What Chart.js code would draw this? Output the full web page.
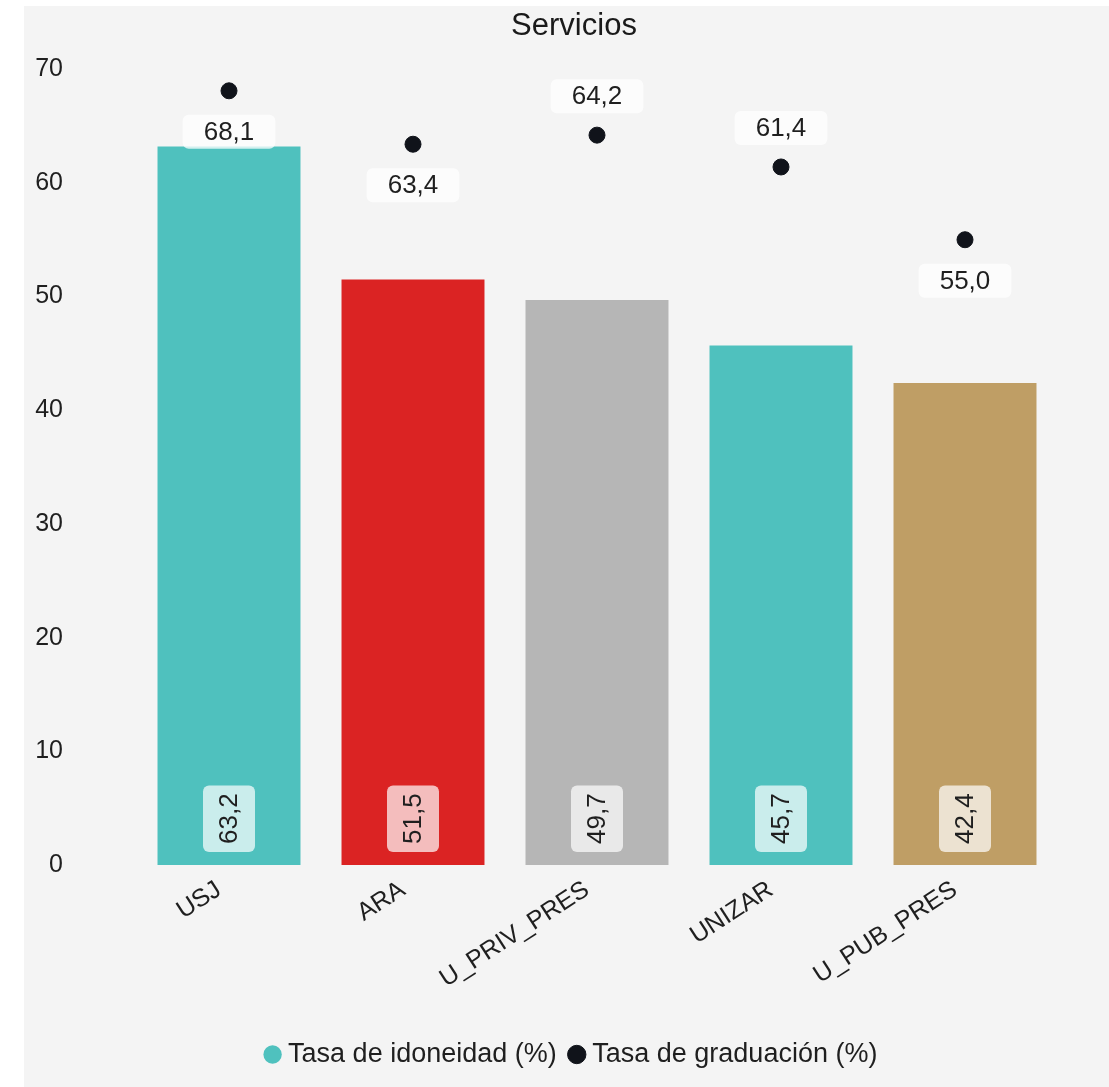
<!DOCTYPE html>
<html>
<head>
<meta charset="utf-8">
<script src="https://cdn.jsdelivr.net/npm/chart.js@4"></script>
<style>
  html, body { margin: 0; padding: 0; background: #fff; overflow: hidden; }
  #wrap { position: absolute; left: 24px; top: 6px; }
  canvas { background: #f4f4f4; display: block; }
</style>
</head>
<body>
<div id="wrap"><canvas id="chart" width="1100" height="1085"></canvas></div>
<script>
const categories = ['USJ', 'ARA', 'U_PRIV_PRES', 'UNIZAR', 'U_PUB_PRES'];
const idoneidad = [63.2, 51.5, 49.7, 45.7, 42.4];
const graduacion = [68.1, 63.4, 64.2, 61.4, 55.0];
const barColors = ['#4fc1be', '#db2323', '#b6b6b6', '#4fc1be', '#bf9e65'];
const dotLabelSide = ['below', 'below', 'above', 'above', 'below'];
const yTicks = [0, 10, 20, 30, 40, 50, 60, 70];

const FONT = '"Liberation Sans", Arial, sans-serif';
const fmt = v => v.toFixed(1).replace('.', ',');

function roundRect(ctx, x, y, w, h, r) {
    ctx.beginPath();
    ctx.moveTo(x + r, y);
    ctx.arcTo(x + w, y, x + w, y + h, r);
    ctx.arcTo(x + w, y + h, x, y + h, r);
    ctx.arcTo(x, y + h, x, y, r);
    ctx.arcTo(x, y, x + w, y, r);
    ctx.closePath();
}

const valueLabels = {
    id: 'valueLabels',
    afterDatasetsDraw(chart) {
        const ctx = chart.ctx;
        ctx.save();
        ctx.font = '26px ' + FONT;
        ctx.textAlign = 'center';
        ctx.textBaseline = 'middle';

        // bar labels, rotated, at the bottom of each bar
        chart.getDatasetMeta(0).data.forEach((bar, i) => {
            const txt = fmt(idoneidad[i]);
            const tw = ctx.measureText(txt).width;
            const bw = 52, bh = tw + 16;
            const cy = bar.base - 13 - bh / 2;
            ctx.save();
            ctx.fillStyle = 'rgba(255,255,255,0.7)';
            roundRect(ctx, bar.x - bw / 2, cy - bh / 2, bw, bh, 6);
            ctx.fill();
            ctx.translate(bar.x, cy);
            ctx.rotate(-Math.PI / 2);
            ctx.fillStyle = '#1f1f1f';
            ctx.fillText(txt, 0, 1);
            ctx.restore();
        });

        // point labels
        chart.getDatasetMeta(1).data.forEach((pt, i) => {
            const txt = fmt(graduacion[i]);
            const tw = ctx.measureText(txt).width;
            const bw = tw + 42, bh = 34;
            const cy = dotLabelSide[i] === 'above' ? pt.y - 22 - bh / 2 : pt.y + 24 + bh / 2;
            ctx.fillStyle = 'rgba(255,255,255,0.75)';
            roundRect(ctx, pt.x - bw / 2, cy - bh / 2, bw, bh, 6);
            ctx.fill();
            ctx.fillStyle = '#1f1f1f';
            ctx.fillText(txt, pt.x, cy + 1);
        });
        ctx.restore();
    }
};

new Chart(document.getElementById('chart'), {
    type: 'bar',
    data: {
        labels: categories,
        datasets: [
            {
                label: 'Tasa de idoneidad (%)',
                data: idoneidad,
                backgroundColor: barColors,
                categoryPercentage: 1,
                barPercentage: 0.777
            },
            {
                type: 'line',
                label: 'Tasa de graduación (%)',
                data: graduacion,
                showLine: false,
                pointRadius: 8,
                pointHoverRadius: 8,
                pointBackgroundColor: '#10131a',
                pointBorderColor: '#10131a',
                backgroundColor: '#10131a',
                borderColor: '#10131a'
            }
        ]
    },
    options: {
        responsive: false,
        animation: false,
        layout: { padding: { left: 11, right: 11, top: 0, bottom: 13 } },
        plugins: {
            title: {
                display: true,
                text: 'Servicios',
                color: '#1a1a1a',
                font: { size: 31, family: FONT, weight: 'normal' },
                padding: { top: 2, bottom: 24 }
            },
            legend: {
                position: 'bottom',
                labels: {
                    usePointStyle: true,
                    pointStyle: 'circle',
                    boxWidth: 4,
                    boxHeight: 13,
                    color: '#1f1f1f',
                    font: { size: 27, family: FONT },
                    padding: 18
                }
            },
            tooltip: { enabled: false }
        },
        scales: {
            x: {
                grid: { display: false, drawTicks: false },
                border: { display: false },
                afterFit: s => { s.paddingLeft = 0; s.paddingRight = 0; s.height = 158; },
                ticks: {
                    color: '#1f1f1f',
                    font: { size: 25, family: FONT },
                    minRotation: 33,
                    maxRotation: 33,
                    labelOffset: -10,
                    padding: 10
                }
            },
            y: {
                min: 0,
                max: 70,
                grid: { display: false, drawTicks: false },
                border: { display: false },
                afterBuildTicks: s => { s.ticks = yTicks.map(v => ({ value: v })); },
                afterFit: s => { s.width = 102; s.paddingTop = 0; s.paddingBottom = 0; },
                ticks: {
                    color: '#1f1f1f',
                    font: { size: 25, family: FONT },
                    padding: 74
                }
            },
            yRight: {
                position: 'right',
                min: 0,
                max: 70,
                grid: { display: false, drawTicks: false },
                border: { display: false },
                ticks: { display: false },
                afterFit: s => { s.width = 56; s.paddingTop = 0; s.paddingBottom = 0; }
            }
        }
    },
    plugins: [valueLabels]
});
</script>
</body>
</html>
